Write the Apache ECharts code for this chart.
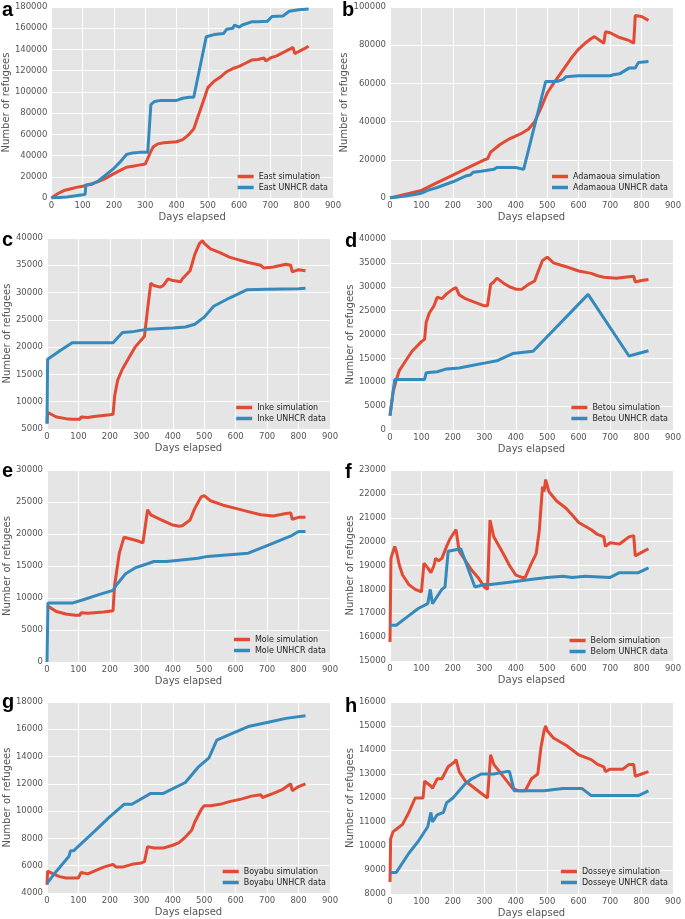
<!DOCTYPE html>
<html><head><meta charset="utf-8">
<script src="https://cdn.jsdelivr.net/npm/echarts@6/dist/echarts.min.js"></script>
<style>html,body{margin:0;padding:0;background:#fff}#c{width:685px;height:919px}</style>
</head><body><div id="c"></div>
<script>
// ---- data: [day, refugees] ----
const eastSim = [[0,0],[20,4000],[40,7000],[60,8500],[80,10000],[100,11000],[110,12000],[130,13500],[150,15500],[170,18000],[200,23000],[220,26000],[240,29000],[260,30000],[280,31000],[300,32000],[306,32500],[315,42000],[325,48000],[340,51000],[360,52000],[380,52500],[400,53000],[420,55000],[440,60000],[455,65000],[470,78000],[490,95000],[500,104000],[520,110000],[540,114000],[560,119000],[580,122000],[600,124000],[620,127000],[640,130000],[660,130500],[680,132000],[685,129000],[700,132000],[720,134000],[740,137000],[760,140000],[772,142000],[778,136000],[790,138000],[810,141000],[822,143000]];
const eastData = [[0,0],[50,1000],[100,3000],[108,3500],[110,12000],[130,13000],[150,16000],[200,28000],[220,34000],[240,41000],[260,42500],[280,43000],[308,43000],[318,88000],[330,91000],[350,92000],[400,92000],[420,94000],[440,95000],[455,95000],[495,152000],[520,154000],[550,155000],[560,159000],[580,160000],[585,163000],[600,161000],[610,163000],[640,166000],[660,166000],[690,166500],[705,171000],[740,171500],[760,176000],[790,177500],[822,178000]];
const adamSim = [[0,0],[50,2000],[100,4000],[150,8000],[200,12000],[250,16000],[300,20000],[310,20500],[320,24000],[350,28000],[380,31000],[420,34000],[440,36000],[460,40000],[480,47000],[500,55000],[520,60000],[550,67000],[580,74000],[600,78000],[620,81000],[640,83500],[645,82500],[650,84500],[680,81000],[685,87000],[700,86500],[730,84000],[760,82500],[775,81000],[780,95500],[800,95000],[822,93000]];
const adamData = [[0,0],[50,1000],[100,2500],[120,4000],[150,5500],[200,8500],[240,11500],[255,12000],[265,13500],[290,14000],[310,14500],[330,15000],[340,16000],[400,16000],[425,15000],[495,61000],[530,61000],[550,62000],[560,63500],[600,64000],[700,64000],[710,64500],[730,65000],[760,68000],[780,68000],[790,71000],[822,71500]];
const inkeSim = [[0,6000],[2,8000],[10,7800],[30,7200],[60,6900],[80,6800],[105,6800],[108,7200],[130,7100],[150,7300],[200,7600],[210,7700],[215,11000],[225,14000],[240,16000],[260,18000],[280,20000],[310,22000],[320,27000],[330,31700],[340,31300],[360,31000],[370,31300],[385,32500],[400,32200],[425,32000],[430,32500],[455,34000],[470,37000],[485,39000],[495,39500],[500,39000],[520,38000],[550,37300],[580,36500],[610,36000],[640,35500],[680,35000],[690,34500],[720,34700],[760,35200],[775,35000],[780,33800],[800,34200],[822,34000]];
const inkeData = [[0,6000],[2,17800],[40,19300],[80,20800],[210,20800],[240,22700],[270,22800],[320,23300],[400,23500],[440,23700],[470,24200],[500,25500],[530,27500],[580,29000],[635,30500],[700,30600],[800,30700],[822,30800]];
const betouSim = [[0,3000],[10,8000],[20,10500],[30,12500],[50,14500],[70,16500],[100,18500],[110,19000],[115,22500],[125,24500],[140,26000],[150,27800],[165,27500],[180,28500],[200,29500],[210,29800],[220,28300],[240,27500],[260,27000],[300,26000],[310,26000],[320,30500],[330,31000],[340,31800],[360,30800],[380,30000],[400,29500],[420,29500],[440,30500],[460,31200],[470,33000],[485,35500],[500,36200],[520,35000],[560,34200],[600,33300],[640,32800],[660,32300],[680,32000],[685,31600],[720,31800],[760,32100],[775,32200],[780,31000],[800,31300],[822,31500]];
const betouData = [[0,3000],[15,10600],[110,10600],[115,12000],[150,12200],[180,12800],[220,13000],[260,13500],[300,14000],[340,14500],[390,16000],[455,16500],[630,28400],[760,15500],[822,16600]];
const moleSim = [[0,8800],[10,8500],[30,7900],[60,7500],[90,7300],[105,7300],[108,7700],[130,7600],[150,7700],[180,7800],[210,8000],[215,12000],[230,17000],[245,19500],[260,19300],[290,18900],[305,18600],[320,23800],[330,23000],[360,22300],[400,21400],[420,21200],[430,21300],[455,22200],[470,24000],[490,25800],[500,26000],[520,25200],[560,24500],[600,24000],[640,23500],[680,23000],[685,22800],[720,22800],[760,23200],[775,23300],[780,22300],[800,22600],[822,22600]];
const moleData = [[0,0],[3,9200],[80,9200],[120,9800],[170,10600],[210,11200],[220,12000],[250,13800],[280,14700],[310,15200],[340,15700],[380,15700],[420,15900],[480,16200],[510,16500],[640,17000],[700,18200],[780,19800],[800,20400],[822,20400]];
const belomSim = [[0,15800],[3,19300],[10,19600],[15,19800],[20,19600],[30,19000],[40,18600],[60,18200],[80,18000],[100,17900],[105,17900],[108,19100],[120,18900],[130,18700],[140,19000],[145,19300],[155,19200],[165,19300],[180,19800],[190,20100],[210,20500],[220,19600],[240,19200],[260,18800],[280,18500],[300,18100],[310,18000],[318,20900],[330,20200],[360,19500],[380,19000],[400,18600],[420,18500],[430,18500],[450,19100],[465,19500],[475,20500],[485,22300],[490,22100],[495,22600],[505,22100],[530,21700],[560,21400],[580,21100],[600,20800],[640,20500],[660,20300],[680,20200],[685,19800],[700,19950],[730,19900],[760,20200],[775,20250],[780,19400],[800,19550],[822,19700]];
const belomData = [[0,16500],[20,16500],[60,16900],[90,17200],[120,17400],[128,18000],[135,17400],[150,17700],[165,18000],[175,18100],[185,19600],[225,19700],[270,18100],[300,18200],[320,18200],[380,18300],[440,18400],[500,18500],[550,18550],[580,18500],[620,18550],[700,18500],[730,18700],[790,18700],[822,18900]];
const boyaSim = [[0,4600],[2,5600],[20,5400],[40,5200],[60,5100],[100,5100],[105,5200],[108,5500],[130,5400],[150,5600],[180,5900],[210,6100],[220,5900],[240,5900],[270,6100],[300,6200],[310,6300],[320,7400],[340,7300],[370,7300],[400,7500],[420,7700],[440,8100],[460,8600],[470,9200],[490,10100],[500,10400],[520,10400],[550,10500],[580,10700],[620,10900],[650,11100],[680,11200],[685,11000],[720,11300],[750,11600],[775,12000],[780,11500],[800,11800],[822,12000]];
const boyaData = [[0,4700],[30,5600],[70,6700],[75,7100],[85,7100],[150,8500],[200,9600],[245,10500],[270,10500],[330,11300],[370,11300],[440,12100],[480,13200],[515,13900],[540,15200],[580,15600],[640,16200],[700,16500],[760,16800],[822,17000]];
const dossSim = [[0,8500],[2,10300],[10,10600],[20,10700],[40,10900],[60,11400],[80,12000],[105,12000],[110,12700],[130,12500],[135,12400],[150,12800],[165,12800],[185,13300],[205,13500],[210,13600],[220,13100],[240,12700],[260,12500],[290,12200],[310,12000],[320,13800],[330,13400],[360,12900],[390,12400],[410,12300],[430,12300],[450,12800],[470,13000],[480,14100],[490,14800],[495,15000],[500,14800],[520,14500],[560,14200],[580,14000],[600,13800],[640,13600],[660,13400],[680,13300],[685,13100],[700,13200],[740,13200],[760,13400],[775,13400],[780,12900],[800,13000],[822,13100]];
const dossData = [[0,8900],[20,8900],[60,9700],[90,10200],[120,10800],[130,11400],[135,11000],[150,11300],[170,11400],[180,11800],[200,12000],[220,12300],[240,12600],[260,12800],[290,13000],[330,13000],[370,13100],[380,13100],[395,12300],[430,12300],[490,12300],[550,12400],[610,12400],[640,12100],[700,12100],[790,12100],[822,12300]];

const camps = ['East','Adamaoua','Inke','Betou','Mole','Belom','Boyabu','Dosseye'];
const letters = ['a','b','c','d','e','f','g','h'];
const simSeries = [eastSim,adamSim,inkeSim,betouSim,moleSim,belomSim,boyaSim,dossSim];
const dataSeries = [eastData,adamData,inkeData,betouData,moleData,belomData,boyaData,dossData];
const yMin = [0,0,5000,0,0,15000,4000,8000];
const yMax = [180000,100000,40000,40000,30000,23000,18000,16000];
const yStep = [20000,20000,5000,5000,5000,1000,2000,1000];
const xMin = 0, xMax = 900, xStep = 100;
const xLabel = 'Days elapsed', yLabel = 'Number of refugees';
const simSuffix = ' simulation', dataSuffix = ' UNHCR data';

// ---- layout ----
const grids = [
  {left:50, top:7, width:283, height:191},
  {left:390, top:7, width:283, height:191},
  {left:47, top:238, width:283, height:191},
  {left:390, top:239, width:283, height:191},
  {left:47, top:470, width:283, height:192},
  {left:390, top:470, width:283, height:191},
  {left:47, top:702, width:283, height:191},
  {left:390, top:702, width:283, height:192}
];
const yNameGap = [35,35,30,30,30,30,30,30];
const legendPos = [
  {right:357, top:172},{right:17, top:172},
  {right:359, top:403},{right:17, top:403},
  {right:359, top:635},{right:17, top:636},
  {right:359, top:867},{right:17, top:867}
];
const letterPos = [[2,15],[342,15],[2,245],[345,246],[2,476],[345,477],[2,707],[345,711]];
const RED = '#E24A33', BLUE = '#348ABD', TXT = '#555555';
const plain = v => String(v);

const option = {
  animation:false,
  backgroundColor:'#ffffff',
  textStyle:{fontFamily:'DejaVu Sans'},
  grid:[], xAxis:[], yAxis:[], series:[], legend:[], graphic:[]
};
for (let i=0;i<8;i++){
  option.grid.push(Object.assign({show:true, backgroundColor:'#E5E5E5', borderWidth:0, containLabel:false}, grids[i]));
  option.xAxis.push({type:'value', gridIndex:i, min:xMin, max:xMax, interval:xStep,
    name:xLabel, nameLocation:'middle', nameGap:14,
    nameTextStyle:{color:TXT, fontSize:10, fontFamily:'DejaVu Sans'},
    axisLine:{show:false}, axisTick:{show:false},
    axisLabel:{color:TXT, fontSize:8.5, margin:3, fontFamily:'DejaVu Sans', formatter:plain, showMinLabel:true, showMaxLabel:true},
    splitLine:{show:true, lineStyle:{color:'#ffffff', width:1}}});
  option.yAxis.push({type:'value', gridIndex:i, min:yMin[i], max:yMax[i], interval:yStep[i],
    name:yLabel, nameLocation:'middle', nameGap:yNameGap[i], nameRotate:90,
    nameTextStyle:{color:TXT, fontSize:10, fontFamily:'DejaVu Sans'},
    axisLine:{show:false}, axisTick:{show:false},
    axisLabel:{color:TXT, fontSize:8.5, margin:4, fontFamily:'DejaVu Sans', formatter:plain, showMinLabel:true, showMaxLabel:true},
    splitLine:{show:true, lineStyle:{color:'#ffffff', width:1}}});
  const sName = camps[i]+simSuffix, dName = camps[i]+dataSuffix;
  option.series.push({type:'line', name:sName, xAxisIndex:i, yAxisIndex:i, data:simSeries[i],
    showSymbol:false, symbol:'none', lineStyle:{color:RED, width:3}, itemStyle:{color:RED}, z:2});
  option.series.push({type:'line', name:dName, xAxisIndex:i, yAxisIndex:i, data:dataSeries[i],
    showSymbol:false, symbol:'none', lineStyle:{color:BLUE, width:3}, itemStyle:{color:BLUE}, z:3});
  option.legend.push(Object.assign({data:[{name:sName, icon:'rect'},{name:dName, icon:'rect'}],
    orient:'vertical', align:'left', itemWidth:16, itemHeight:3.5, itemGap:2, padding:0,
    textStyle:{color:'#222', fontSize:8, fontFamily:'DejaVu Sans', lineHeight:9}, selectedMode:false}, legendPos[i]));
  option.graphic.push({type:'text', left:letterPos[i][0], top:letterPos[i][1]-15,
    style:{text:letters[i], font:'bold 20px "Liberation Sans", Arial, sans-serif', fill:'#000'}});
}
const chart = echarts.init(document.getElementById('c'), null, {renderer:'canvas'});
chart.setOption(option);
</script></body></html>
